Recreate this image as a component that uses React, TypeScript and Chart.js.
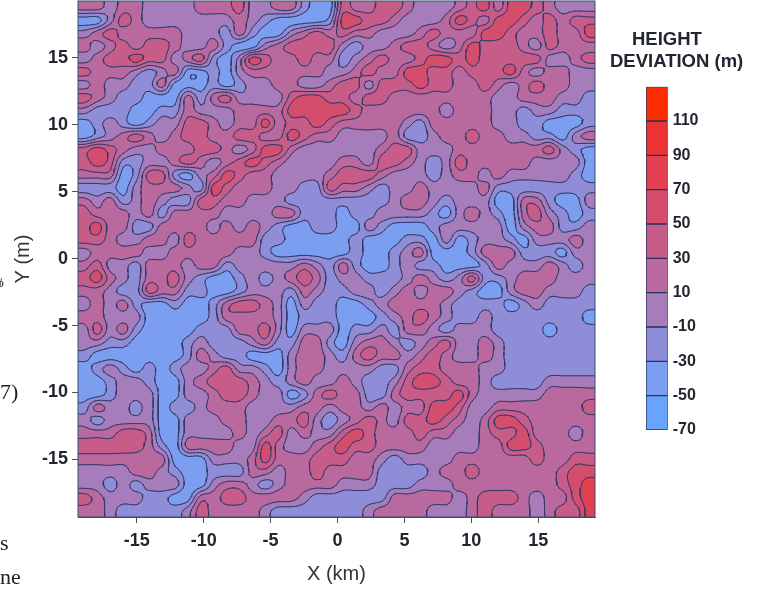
import React, { useEffect, useRef } from "react";
import { Chart, registerables } from "chart.js";

Chart.register(...registerables);

const SANS = "'Liberation Sans', Arial, sans-serif";
const INK = "#222630";

const xTicks = [-15, -10, -5, 0, 5, 10, 15];
const yTicks = [-15, -10, -5, 0, 5, 10, 15];
const barTicks = [-70, -50, -30, -10, 10, 30, 50, 70, 90, 110];
const contourLevels = [-50, -30, -10, 10, 30, 50, 70, 90, 110];
const bandLows = [-70, -50, -30, -10, 10, 30, 50, 70, 90, 110];
const bandHighs = [-50, -30, -10, 10, 30, 50, 70, 90, 110, 130];
const bandColors = ["#68a4fb", "#7b9ef0", "#8f8dd8", "#a67dba", "#ba699f", "#c75c88", "#d44d6c", "#e23f50", "#ec3334", "#fb2c02"];

const X_MIN = -19.4;
const X_MAX = 19.25;
const Y_MIN = -19.3;
const Y_MAX = 19.25;

const r00 = [20,20,0,20,20,0,0,0,0,20,20,20,40,0,0,20,20,-20,-40,-40,40,20,20,40,40,20,0,0,0,20,40,60,20,60,60,40,20,0,0,0];
const r01 = [-40,-40,0,40,20,0,0,0,0,0,0,0,20,0,-20,-40,-40,-40,-40,-20,60,60,40,40,20,0,0,0,20,60,40,20,60,60,40,20,40,20,40,40];
const r02 = [0,20,40,20,20,20,20,20,0,0,0,-20,20,-20,-40,-40,0,20,40,20,40,20,20,0,0,0,20,40,20,20,20,60,60,40,20,20,40,20,20,60];
const r03 = [20,0,20,40,20,40,40,20,0,0,20,-20,-40,-40,0,20,40,40,40,40,0,-20,0,0,20,40,40,20,0,20,60,40,40,40,20,0,40,20,20,20];
const r04 = [0,20,40,40,60,40,40,0,20,40,-20,-40,0,60,40,20,20,40,20,20,-20,0,20,40,20,20,40,60,60,40,60,40,40,40,40,40,0,0,20,40];
const r05 = [40,20,20,20,0,-20,0,20,-40,-40,-20,-40,0,20,20,20,20,20,20,0,0,20,40,20,20,60,60,40,40,20,40,40,40,60,20,0,20,20,0,0];
const r06 = [0,20,0,0,-20,-20,20,-40,-40,-40,-20,-40,-20,0,0,20,20,0,0,20,40,40,0,40,40,40,60,40,40,20,20,40,20,0,20,40,20,20,0,0];
const r07 = [40,20,0,-20,-20,-40,-40,-40,20,-20,20,40,0,0,0,0,40,60,60,40,40,20,40,40,20,20,20,20,20,20,20,20,0,0,20,20,20,0,0,-20];
const r08 = [0,-20,-20,-20,-40,-40,-20,-20,20,0,0,0,20,20,20,20,60,60,60,60,60,40,20,20,20,20,20,20,0,20,20,20,0,0,-20,0,0,-20,-20,-20];
const r09 = [-40,-20,0,-20,-40,-20,0,0,40,40,20,0,20,20,60,20,40,40,60,40,20,20,20,20,20,0,-20,20,20,20,20,20,0,0,-20,-20,-40,-40,-40,-20];
const r10 = [-40,-20,0,20,40,20,0,20,40,40,20,20,40,40,20,20,60,40,20,20,0,0,0,0,20,-20,-20,0,20,20,40,20,20,0,0,-20,-20,-40,0,20];
const r11 = [40,60,40,20,0,0,20,20,20,40,40,20,0,20,60,60,20,0,0,0,0,0,0,20,40,40,0,0,0,20,20,20,20,20,20,20,40,0,-20,-40];
const r12 = [40,60,40,-20,-20,0,0,20,40,20,0,20,40,60,40,20,0,0,0,0,20,20,0,40,40,20,0,-20,0,40,20,20,20,20,20,0,0,0,0,-40];
const r13 = [20,20,20,-40,-20,40,40,-20,-40,0,20,60,40,20,20,0,0,0,0,20,40,40,40,20,0,0,0,-20,0,20,20,0,20,0,0,0,0,0,-20,-40];
const r14 = [-20,-20,-20,-40,0,20,20,20,0,-20,60,40,20,20,20,0,0,-20,-20,40,20,20,0,-20,0,0,20,0,0,0,0,20,-20,-20,-20,-20,-20,-20,-20,-20];
const r15 = [20,0,20,-20,0,20,0,-20,-20,40,40,20,20,0,0,0,-20,-20,-20,-20,-20,-20,-20,-20,0,20,20,0,-20,0,0,0,-40,-40,20,20,-20,-40,-40,0];
const r16 = [40,20,20,20,0,20,-20,20,20,20,20,0,0,0,0,20,20,-20,-20,-20,-40,-20,-20,0,0,0,0,-20,-40,0,20,0,-20,-40,20,40,0,-20,-40,-20];
const r17 = [40,60,20,20,-20,-20,20,20,20,20,0,20,0,20,0,-20,-40,-40,-20,-20,-40,-40,0,-20,-40,-40,-40,-20,0,0,0,0,0,-40,0,20,20,-20,-20,0];
const r18 = [40,40,20,0,0,20,20,0,40,20,20,20,20,20,-20,-20,-40,-40,-40,-40,-40,-20,-40,-40,-40,-20,-20,-40,0,-40,-20,0,0,-20,-40,0,0,0,20,0];
const r19 = [0,20,20,20,20,0,0,20,20,20,20,20,0,0,-20,-40,-40,-40,-40,-40,-40,-20,-40,-40,-20,0,20,-40,-40,-40,-20,20,20,20,-20,-20,-20,-40,0,0];
const r20 = [20,40,0,0,-20,20,20,20,0,20,20,-20,0,0,0,0,0,20,0,-20,20,-20,-40,-40,-20,0,-20,-20,-40,-40,-40,-20,20,0,0,0,20,0,-20,0];
const r21 = [40,60,20,0,-20,20,20,40,0,-20,-40,-40,-20,0,-20,0,20,40,20,-20,0,0,-20,-20,-20,0,20,0,-20,0,40,-20,-20,0,20,20,20,0,0,0];
const r22 = [20,20,0,-20,-20,40,20,20,-20,-20,-40,-40,-20,0,0,0,-20,20,0,-20,-20,0,0,-20,0,20,0,20,20,0,-20,-40,-40,0,20,20,0,0,0,-20];
const r23 = [0,20,0,20,-20,-40,-40,-20,-40,-40,-20,20,40,40,20,0,-40,0,-20,-20,-40,-40,-20,0,20,20,20,20,0,-20,-20,-20,-20,-40,-20,0,-20,-20,-20,-20];
const r24 = [20,20,0,0,0,-40,-40,-40,-40,-40,-20,20,20,20,20,0,-40,-20,-20,-20,-40,-40,-40,-20,0,20,40,20,0,-20,-20,0,-20,-20,-20,-20,-20,-20,-20,-40];
const r25 = [0,40,0,20,-20,-40,-40,-40,-40,-20,-20,-20,20,20,40,0,-40,0,0,0,-40,-20,-20,0,-20,20,20,0,-20,0,0,0,-20,-20,-20,-20,-40,-20,-20,-20];
const r26 = [0,0,-20,-20,-40,-40,-40,-40,-20,0,-20,-20,-20,0,20,-20,-20,20,20,-20,-40,0,20,20,0,-20,0,20,40,0,0,20,0,-20,-20,-20,-20,-20,-20,-20];
const r27 = [-20,-40,-40,-40,-40,-40,-40,-40,-20,20,0,-20,-20,-40,-40,-40,0,20,20,0,-20,20,40,20,20,0,20,40,20,0,0,20,0,-20,-20,-20,-20,-20,-20,-20];
const r28 = [-40,-20,0,-20,-40,-20,-40,-20,0,0,20,40,0,0,-20,-40,0,20,20,0,0,0,0,-20,-20,20,40,40,20,20,20,0,0,-20,-20,-20,-20,-20,-20,-20];
const r29 = [-40,-40,-20,0,0,-20,-40,-40,0,20,40,40,40,20,0,-20,0,20,0,0,20,0,-20,-20,0,40,60,60,40,20,20,0,-20,-20,-20,-20,0,0,0,0];
const r30 = [-40,-40,-20,0,0,0,-40,-40,0,0,20,40,40,20,0,0,-40,-20,20,40,20,20,-20,-20,20,40,40,40,40,60,20,0,0,0,0,0,20,20,20,20];
const r31 = [-20,20,0,0,-20,0,-40,-20,-20,0,20,20,20,0,0,0,0,20,20,0,20,20,0,20,0,20,20,60,60,40,0,0,20,20,20,20,20,20,20,40];
const r32 = [0,-20,0,0,0,0,-40,-40,0,0,0,20,20,0,0,20,20,40,0,-20,0,20,40,20,0,40,40,60,40,20,0,20,60,60,40,20,20,20,20,20];
const r33 = [20,20,20,40,40,20,-40,-40,0,0,0,0,20,0,20,40,0,20,0,0,40,60,40,20,20,20,40,20,20,0,0,20,40,40,60,20,20,20,0,20];
const r34 = [40,40,40,40,40,20,-20,-40,20,20,20,20,0,0,60,20,0,0,20,40,60,40,40,20,20,20,20,0,0,0,0,20,20,60,60,40,20,20,20,20];
const r35 = [20,20,20,20,20,20,20,-40,-40,-40,0,0,0,20,60,20,20,20,40,40,40,20,20,0,-20,0,0,0,0,20,20,20,20,20,20,40,20,20,40,40];
const r36 = [0,0,0,0,20,20,0,-20,-40,-40,-20,-20,-20,20,20,0,20,20,40,20,20,20,20,-20,-20,-20,-20,0,20,20,40,20,20,20,20,20,20,40,60,60];
const r37 = [0,0,-20,0,-20,0,0,0,-40,-40,0,20,20,0,-20,0,20,20,20,20,0,0,0,-20,-20,-20,0,0,0,20,20,20,20,20,20,20,20,40,60,80];
const r38 = [40,20,0,0,0,-20,-20,-40,-40,20,20,40,40,20,20,20,20,0,-20,-20,-20,-20,-20,-20,20,20,20,20,20,0,20,40,40,40,20,0,20,20,60,80];
const r39 = [20,20,0,-20,-20,-20,-20,-20,0,40,20,20,20,20,0,-20,-20,-20,-20,-20,-20,-20,0,20,20,20,20,0,0,0,20,40,20,20,20,0,20,40,40,80];

const heightRows = [r00,r01,r02,r03,r04,r05,r06,r07,r08,r09,r10,r11,r12,r13,r14,r15,r16,r17,r18,r19,r20,r21,r22,r23,r24,r25,r26,r27,r28,r29,r30,r31,r32,r33,r34,r35,r36,r37,r38,r39];

const REFINE = 4;

function cubic(a: number, b: number, c: number, d: number, t: number) {
  return b + 0.5 * t * (c - a + t * (2 * a - 5 * b + 4 * c - d + t * (3 * (b - c) + d - a)));
}

function sampleSurface(u: number, v: number) {
  const N = heightRows.length;
  const M = heightRows[0].length;
  const iu = Math.floor(u);
  const iv = Math.floor(v);
  const at = (r: number, c: number) =>
    heightRows[Math.max(0, Math.min(N - 1, r))][Math.max(0, Math.min(M - 1, c))];
  const col = [0, 0, 0, 0];
  for (let k = -1; k <= 2; k++) {
    col[k + 1] = cubic(at(iv + k, iu - 1), at(iv + k, iu), at(iv + k, iu + 1), at(iv + k, iu + 2), u - iu);
  }
  return cubic(col[0], col[1], col[2], col[3], v - iv);
}

function buildField() {
  const N = heightRows.length;
  const M = heightRows[0].length;
  const nx = M * REFINE + 1;
  const ny = N * REFINE + 1;
  const f: number[][] = [];
  for (let j = 0; j < ny; j++) {
    const row: number[] = [];
    for (let i = 0; i < nx; i++) row.push(sampleSurface(-0.5 + i / REFINE, -0.5 + j / REFINE));
    f.push(row);
  }
  const xs = Array.from({ length: nx }, (_, i) => X_MIN + ((X_MAX - X_MIN) * i) / (nx - 1));
  const ys = Array.from({ length: ny }, (_, j) => Y_MAX - ((Y_MAX - Y_MIN) * j) / (ny - 1));
  return { f, xs, ys, nx, ny };
}

const field = buildField();

function contourPoints(level: number) {
  const { f, xs, ys, nx, ny } = field;
  const out: { x: number; y: number }[] = [];
  const seg = (a: { x: number; y: number }, b: { x: number; y: number }) => {
    out.push(a, b, { x: NaN, y: NaN });
  };
  for (let j = 0; j < ny - 1; j++) {
    for (let i = 0; i < nx - 1; i++) {
      const a = f[j][i], b = f[j][i + 1], c = f[j + 1][i + 1], d = f[j + 1][i];
      const code = (a > level ? 8 : 0) | (b > level ? 4 : 0) | (c > level ? 2 : 0) | (d > level ? 1 : 0);
      if (code === 0 || code === 15) continue;
      const top = () => ({ x: xs[i] + ((level - a) / (b - a)) * (xs[i + 1] - xs[i]), y: ys[j] });
      const bot = () => ({ x: xs[i] + ((level - d) / (c - d)) * (xs[i + 1] - xs[i]), y: ys[j + 1] });
      const lef = () => ({ x: xs[i], y: ys[j] + ((level - a) / (d - a)) * (ys[j + 1] - ys[j]) });
      const rig = () => ({ x: xs[i + 1], y: ys[j] + ((level - b) / (c - b)) * (ys[j + 1] - ys[j]) });
      switch (code) {
        case 1: case 14: seg(lef(), bot()); break;
        case 2: case 13: seg(bot(), rig()); break;
        case 3: case 12: seg(lef(), rig()); break;
        case 4: case 11: seg(top(), rig()); break;
        case 6: case 9: seg(top(), bot()); break;
        case 7: case 8: seg(lef(), top()); break;
        case 5: seg(lef(), top()); seg(bot(), rig()); break;
        case 10: seg(lef(), bot()); seg(top(), rig()); break;
      }
    }
  }
  return out;
}

function hexToRgb(h: string) {
  return [parseInt(h.slice(1, 3), 16), parseInt(h.slice(3, 5), 16), parseInt(h.slice(5, 7), 16)];
}

const surfacePlugin = {
  id: "surface",
  beforeDatasetsDraw(chart: any) {
    const { ctx, chartArea, scales } = chart;
    const w = Math.ceil(chartArea.right - chartArea.left);
    const h = Math.ceil(chartArea.bottom - chartArea.top);
    const off = document.createElement("canvas");
    off.width = w;
    off.height = h;
    const oc = off.getContext("2d")!;
    const img = oc.createImageData(w, h);
    const rgb = bandColors.map(hexToRgb);
    const { f, nx, ny } = field;
    for (let py = 0; py < h; py++) {
      const yv = scales.y.getValueForPixel(chartArea.top + py + 0.5);
      const gy = Math.max(0, Math.min(ny - 1.001, ((Y_MAX - yv) / (Y_MAX - Y_MIN)) * (ny - 1)));
      const j = Math.floor(gy), ty = gy - j;
      for (let px = 0; px < w; px++) {
        const xv = scales.x.getValueForPixel(chartArea.left + px + 0.5);
        const gx = Math.max(0, Math.min(nx - 1.001, ((xv - X_MIN) / (X_MAX - X_MIN)) * (nx - 1)));
        const i = Math.floor(gx), tx = gx - i;
        const v =
          (f[j][i] * (1 - tx) + f[j][i + 1] * tx) * (1 - ty) +
          (f[j + 1][i] * (1 - tx) + f[j + 1][i + 1] * tx) * ty;
        let b = 0;
        while (b < bandHighs.length - 1 && v > bandHighs[b]) b++;
        const k = (py * w + px) * 4;
        img.data[k] = rgb[b][0];
        img.data[k + 1] = rgb[b][1];
        img.data[k + 2] = rgb[b][2];
        img.data[k + 3] = 255;
      }
    }
    oc.putImageData(img, 0, 0);
    ctx.drawImage(off, chartArea.left, chartArea.top);
  },
  afterDatasetsDraw(chart: any) {
    const { ctx, chartArea } = chart;
    ctx.save();
    ctx.strokeStyle = "#35506e";
    ctx.lineWidth = 1;
    ctx.strokeRect(chartArea.left, chartArea.top, chartArea.right - chartArea.left, chartArea.bottom - chartArea.top);
    ctx.restore();
  },
};

const strayTexts = [
  { text: "\u03d5", left: -3, top: 275, size: 13, italic: true },
  { text: "7)", left: 0, top: 379, size: 22, italic: false },
  { text: "s", left: 0, top: 530, size: 22, italic: false },
  { text: "ne", left: 0, top: 564, size: 22, italic: false },
];

const barTitleLines = [
  { text: "HEIGHT", left: 632, top: 28 },
  { text: "DEVIATION (m)", left: 610, top: 50 },
];

export default function App() {
  const mapRef = useRef<HTMLCanvasElement>(null);
  const barRef = useRef<HTMLCanvasElement>(null);

  useEffect(() => {
    const tickFont = { family: SANS, size: 18, weight: "bold" as const };
    const titleFont = { family: SANS, size: 20 };
    const map = new Chart(mapRef.current!, {
      type: "scatter",
      data: {
        datasets: contourLevels.map((level) => ({
          label: `${level} m`,
          data: contourPoints(level),
          showLine: true,
          pointRadius: 0,
          borderColor: "#343a6a",
          borderWidth: 1,
          spanGaps: false,
          borderCapStyle: "round",
        })) as any,
      },
      plugins: [surfacePlugin],
      options: {
        animation: false,
        responsive: false,
        events: [],
        layout: { padding: { left: 0, top: 1, right: 181, bottom: 0 } },
        plugins: { legend: { display: false }, tooltip: { enabled: false } },
        scales: {
          x: {
            type: "linear",
            min: X_MIN,
            max: X_MAX,
            afterBuildTicks: (s: any) => { s.ticks = xTicks.map((value) => ({ value })); },
            afterFit: (s: any) => { s.height = 76; s.paddingLeft = 0; s.paddingRight = 0; },
            grid: { drawOnChartArea: false, tickLength: 6, tickColor: "#4a5260", drawTicks: true },
            border: { display: true, color: "#35506e" },
            ticks: { color: INK, font: tickFont, padding: 7, maxRotation: 0, autoSkip: false },
            title: { display: true, text: "X (km)", color: "#333", font: titleFont, padding: { top: 0, bottom: 7 } },
          },
          y: {
            type: "linear",
            min: Y_MIN,
            max: Y_MAX,
            afterBuildTicks: (s: any) => { s.ticks = yTicks.map((value) => ({ value })); },
            afterFit: (s: any) => { s.width = 78; s.paddingTop = 0; s.paddingBottom = 0; },
            grid: { drawOnChartArea: false, tickLength: 6, tickColor: "#4a5260", drawTicks: true },
            border: { display: true, color: "#35506e" },
            ticks: { color: INK, font: tickFont, padding: 4, autoSkip: false },
            title: { display: true, text: "Y (m)", color: "#333", font: titleFont, padding: { top: 11, bottom: 0 } },
          },
        },
      },
    });

    const bar = new Chart(barRef.current!, {
      type: "bar",
      data: {
        labels: ["HEIGHT DEVIATION (m)"],
        datasets: bandLows.map((low, i) => ({
          label: `${low}`,
          data: [[low, bandHighs[i]]],
          backgroundColor: bandColors[i],
          borderColor: "#26305c",
          borderWidth: 1,
          borderSkipped: false,
          barPercentage: 1,
          categoryPercentage: 1,
        })) as any,
      },
      options: {
        animation: false,
        responsive: false,
        events: [],
        layout: { padding: { left: 60, top: 58.7, right: 0, bottom: 4 } },
        plugins: { legend: { display: false }, tooltip: { enabled: false } },
        scales: {
          x: {
            stacked: true,
            display: false,
            afterFit: (s: any) => { s.paddingLeft = 0; s.paddingRight = 0; },
          },
          y: {
            type: "linear",
            position: "right",
            min: -70,
            max: 130,
            afterBuildTicks: (s: any) => { s.ticks = barTicks.map((value) => ({ value })); },
            afterFit: (s: any) => { s.width = 78.3; s.paddingTop = 0; s.paddingBottom = 0; },
            grid: { display: false, drawTicks: false },
            border: { display: false },
            ticks: { color: INK, font: { family: SANS, size: 16, weight: "bold" }, padding: 5, autoSkip: false },
          },
        },
      },
    });

    return () => {
      map.destroy();
      bar.destroy();
    };
  }, []);

  return (
    <div style={{ position: "absolute", left: 0, top: 0, width: 776, height: 593, overflow: "hidden", background: "#fff" }}>
      <canvas ref={mapRef} width={776} height={593} style={{ position: "absolute", left: 0, top: 0, filter: "blur(0.5px)" }} />
      <canvas ref={barRef} width={160} height={406} style={{ position: "absolute", left: 586, top: 28, filter: "blur(0.4px)" }} />
      {barTitleLines.map((t) => (
        <span
          key={t.text}
          style={{ position: "absolute", left: t.left, top: t.top, fontFamily: SANS, fontSize: 18.5, fontWeight: "bold", lineHeight: "22px", color: INK, whiteSpace: "nowrap" }}
        >
          {t.text}
        </span>
      ))}
      {strayTexts.map((t) => (
        <span
          key={t.text}
          style={{
            position: "absolute",
            left: t.left,
            top: t.top,
            fontFamily: "'Liberation Serif', serif",
            fontSize: t.size,
            fontStyle: t.italic ? "italic" : "normal",
            color: "#222",
          }}
        >
          {t.text}
        </span>
      ))}
    </div>
  );
}
